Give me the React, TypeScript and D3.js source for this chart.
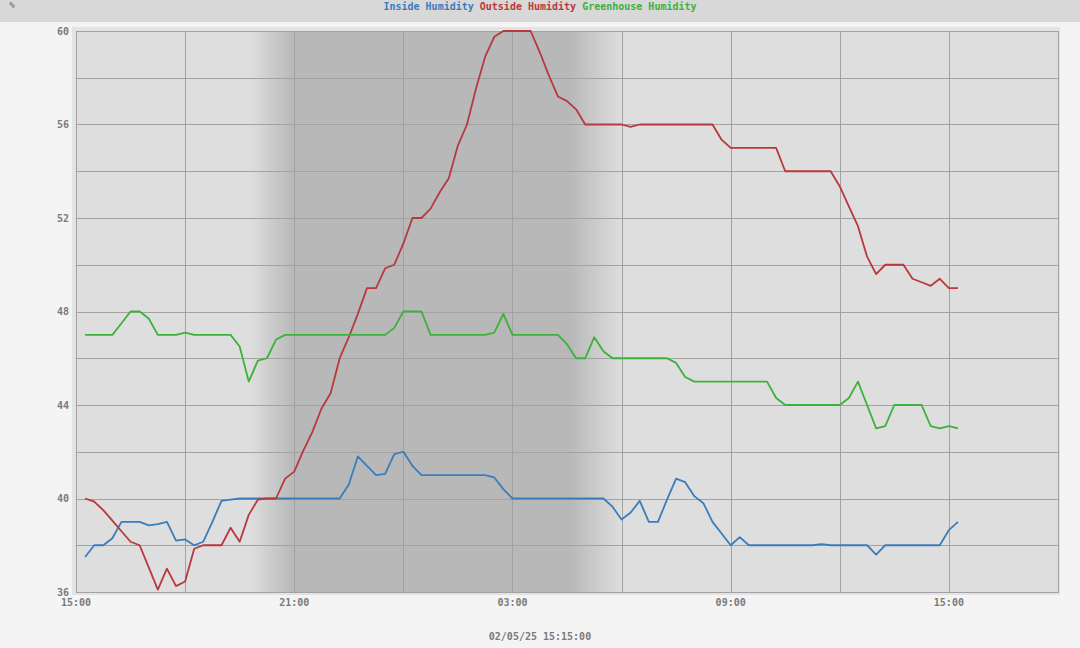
import React from "react";
import * as d3 from "d3";

// ---- data ----
const startTime = new Date(2025, 1, 4, 15, 15);
const stepMinutes = 15;
const domainStart = new Date(2025, 1, 4, 15, 0);
const domainEnd = new Date(2025, 1, 5, 18, 0);

const insideHumidity = [
  37.5, 38, 38, 38.3, 39, 39, 39, 38.85, 38.9, 39, 38.2, 38.25, 38, 38.15, 39, 39.9, 39.95,
  40, 40, 40, 40, 40, 40, 40, 40, 40, 40, 40, 40,
  40.6, 41.8, 41.4, 41, 41.05, 41.9, 42, 41.4,
  41, 41, 41, 41, 41, 41, 41, 41,
  40.9, 40.4,
  40, 40, 40, 40, 40, 40, 40, 40, 40, 40, 40,
  39.65, 39.1, 39.4, 39.9, 39, 39, 39.95, 40.85, 40.7, 40.1, 39.8, 39, 38.5, 38, 38.35,
  38, 38, 38, 38, 38, 38, 38, 38,
  38.05,
  38, 38, 38, 38, 38,
  37.6,
  38, 38, 38, 38, 38, 38, 38,
  38.65, 39,
];

const outsideHumidity = [
  40, 39.87, 39.5, 39.05, 38.6, 38.15, 38, 37.05, 36.1, 37, 36.25, 36.45, 37.85, 38, 38, 38,
  38.75, 38.15, 39.3, 39.95, 40, 40, 40.85, 41.15, 42.05, 42.85, 43.85, 44.5, 46, 46.9, 47.9,
  49, 49, 49.85, 50, 50.9, 52, 52, 52.4, 53.1, 53.7, 55.1, 56, 57.55, 58.9, 59.75,
  60, 60, 60, 60, 59.1, 58.1, 57.2, 57, 56.65, 56,
  56, 56, 56, 56,
  55.9,
  56, 56, 56, 56, 56, 56, 56, 56, 56,
  55.35,
  55, 55, 55, 55, 55, 55,
  54, 54, 54, 54, 54, 54,
  53.35, 52.5, 51.65, 50.35, 49.6, 50, 50, 50, 49.4, 49.25, 49.1, 49.4, 49, 49,
];

const greenhouseHumidity = [
  47, 47, 47, 47, 47.5, 48, 48, 47.7, 47, 47, 47, 47.1, 47, 47, 47, 47, 47,
  46.5, 45, 45.9, 46, 46.8,
  47, 47, 47, 47, 47, 47, 47, 47, 47, 47, 47, 47,
  47.3, 48, 48, 48,
  47, 47, 47, 47, 47, 47, 47,
  47.1, 47.9,
  47, 47, 47, 47, 47, 47,
  46.6, 46, 46, 46.9, 46.3,
  46, 46, 46, 46, 46, 46, 46,
  45.8, 45.2,
  45, 45, 45, 45, 45, 45, 45, 45, 45,
  44.3,
  44, 44, 44, 44, 44, 44, 44,
  44.3, 45, 44, 43, 43.1,
  44, 44, 44, 44,
  43.1, 43, 43.1, 43,
];

const seriesNames = ["Inside Humidity", "Outside Humidity", "Greenhouse Humidity"];
const seriesColors = ["#3a7dbd", "#b8393d", "#3cb13c"];
const yTickValues = [36, 40, 44, 48, 52, 56, 60];
const yGridValues = [36, 38, 40, 42, 44, 46, 48, 50, 52, 54, 56, 58, 60];
const xTickLabels = ["15:00", "21:00", "03:00", "09:00", "15:00"];
const unitLabel = "%";
const dateLabel = "02/05/25 15:15:00";
const duskStart = new Date(2025, 1, 4, 19, 47);
const nightStart = new Date(2025, 1, 4, 21, 0);
const nightEnd = new Date(2025, 1, 5, 4, 35);
const dawnEnd = new Date(2025, 1, 5, 6, 0);

const W = 1080;
const H = 648;
const textColor = "#7a7a7a";
const gridColor = "#a2a2a2";
const font = "'DejaVu Sans Mono', monospace";

export default function App() {
  const x = d3.scaleTime().domain([domainStart, domainEnd]).range([76, 1058]);
  const y = d3.scaleLinear().domain([36, 60]).range([592, 31]);

  const times = insideHumidity.map((_, i) => d3.timeMinute.offset(startTime, i * stepMinutes));
  const allSeries = [insideHumidity, outsideHumidity, greenhouseHumidity];

  const line = d3
    .line<number>()
    .x((_, i) => x(times[i]))
    .y((d) => y(d));

  const xGrid = d3.timeHour.range(domainStart, d3.timeMinute.offset(domainEnd, 1), 3);
  const xLabelTicks = d3.timeHour.range(domainStart, domainEnd, 6);

  const sx0 = x(duskStart);
  const sx1 = x(dawnEnd);
  const f1 = (x(nightStart) - sx0) / (sx1 - sx0);
  const f2 = (x(nightEnd) - sx0) / (sx1 - sx0);

  const [x0, x1] = x.range();
  const [yb, yt] = y.range();

  return (
    <svg
      width={W}
      height={H}
      style={{ position: "absolute", left: 0, top: 0, display: "block" }}
    >
      <defs>
        <linearGradient id="nightGrad" x1="0" x2="1" y1="0" y2="0">
          <stop offset={0} stopColor="#dedede" />
          <stop offset={f1} stopColor="#b8b8b8" />
          <stop offset={f2} stopColor="#b8b8b8" />
          <stop offset={1} stopColor="#dedede" />
        </linearGradient>
      </defs>
      <rect x={0} y={0} width={W} height={H} fill="#f4f4f4" />
      <rect x={0} y={0} width={W} height={22} fill="#d8d8d8" />

      {/* unit label */}
      <text x={12} y={8} fontFamily={font} fontWeight="bold" fontSize={9} fill={textColor} textAnchor="middle">
        {unitLabel}
      </text>

      {/* legend */}
      <text x={540} y={9.5} fontFamily={font} fontWeight="bold" fontSize={10} textAnchor="middle">
        {seriesNames.map((n, i) => (
          <tspan key={n} fill={seriesColors[i]}>
            {(i > 0 ? " " : "") + n}
          </tspan>
        ))}
      </text>

      {/* frame */}
      <rect x={x0 - 4} y={yt - 4} width={x1 - x0 + 6} height={yb - yt + 7} fill="#e3e3e3" />
      <rect x={x0} y={yt} width={x1 - x0} height={yb - yt} fill="#dedede" />
      <rect x={sx0} y={yt} width={sx1 - sx0} height={yb - yt} fill="url(#nightGrad)" />

      {/* grid */}
      <g shapeRendering="crispEdges" stroke={gridColor} strokeWidth={1}>
        {yGridValues.map((v) => (
          <line key={"gy" + v} x1={x0} x2={x1} y1={Math.round(y(v)) + 0.5} y2={Math.round(y(v)) + 0.5} />
        ))}
        {xGrid.map((t) => (
          <line key={"gx" + t.getTime()} x1={Math.round(x(t)) + 0.5} x2={Math.round(x(t)) + 0.5} y1={yt} y2={yb} />
        ))}
        <rect x={x0 + 0.5} y={yt + 0.5} width={x1 - x0} height={yb - yt} fill="none" />
      </g>

      {/* y labels */}
      {yTickValues.map((v) => (
        <text
          key={"yl" + v}
          x={69}
          y={y(v) + 3.5}
          fontFamily={font}
          fontWeight="bold"
          fontSize={10}
          fill={textColor}
          textAnchor="end"
        >
          {v}
        </text>
      ))}

      {/* x labels */}
      {xLabelTicks.map((t, i) => (
        <text
          key={"xl" + t.getTime()}
          x={x(t)}
          y={605.5}
          fontFamily={font}
          fontWeight="bold"
          fontSize={10}
          fill={textColor}
          textAnchor="middle"
        >
          {xTickLabels[i]}
        </text>
      ))}

      {/* series */}
      {allSeries.map((s, i) => (
        <path key={"s" + i} d={line(s) || ""} fill="none" stroke={seriesColors[i]} strokeWidth={1.8} strokeLinejoin="round" />
      ))}

      {/* date label */}
      <text x={540} y={640} fontFamily={font} fontWeight="bold" fontSize={10} fill={textColor} textAnchor="middle">
        {dateLabel}
      </text>
    </svg>
  );
}
